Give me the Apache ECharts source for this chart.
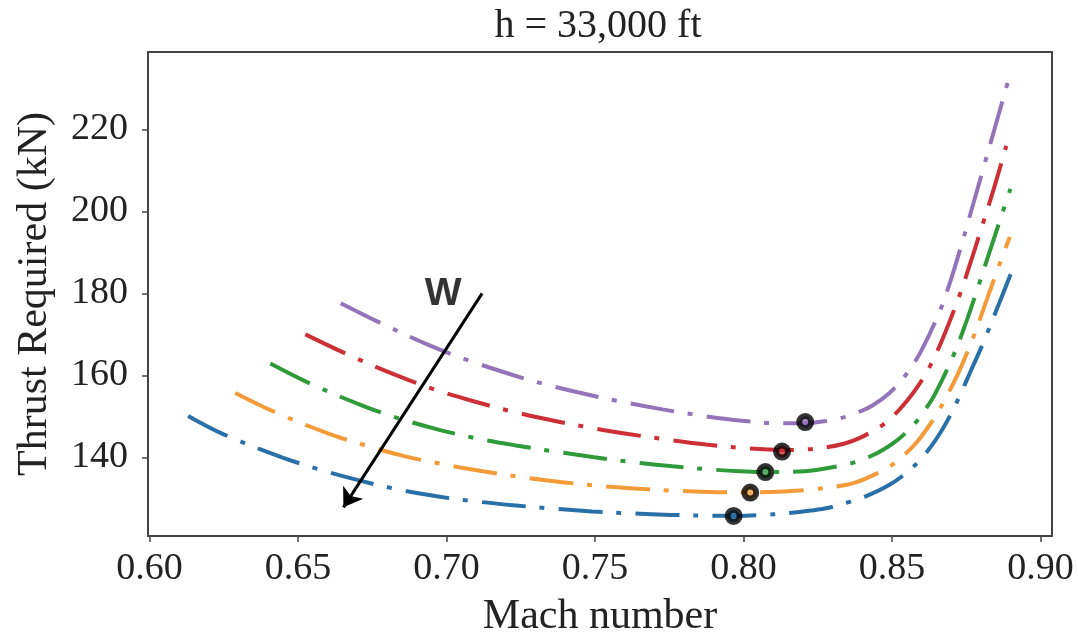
<!DOCTYPE html>
<html><head><meta charset="utf-8">
<script src="https://cdn.jsdelivr.net/npm/echarts@6/dist/echarts.min.js"></script>
<style>html,body{margin:0;padding:0;background:#fff}#c{width:1078px;height:643px}</style>
</head><body><div id="c"></div>
<script>
// ---- data ----
const xTicks = [0.60, 0.65, 0.70, 0.75, 0.80, 0.85, 0.90];
const yTicks = [140, 160, 180, 200, 220];

const blueM   = [0.613,0.625,0.6446,0.6569,0.6699,0.6828,0.6957,0.7091,0.7226,0.7355,0.749,0.7625,0.7756,0.7888,0.7967,0.8046,0.8156,0.8227,0.8287,0.836,0.8416,0.848,0.8531,0.859,0.8645,0.8691,0.8725,0.8765,0.8806,0.8855,0.8905];
const blueT   = [150.1,145.6,140.0,137.1,134.5,132.3,130.6,129.3,128.3,127.5,126.8,126.3,125.95,125.75,125.7,125.85,126.4,127.0,127.7,129.2,130.6,132.8,135.2,139.0,144.0,149.5,154.5,161.0,167.7,176.5,185.6];

const orangeM = [0.6289,0.6423,0.6603,0.6732,0.6858,0.699,0.7097,0.7251,0.7383,0.7516,0.765,0.7784,0.7916,0.8023,0.812,0.8222,0.8315,0.8371,0.843,0.8506,0.8545,0.8585,0.8625,0.8663,0.8725,0.8775,0.882,0.8865,0.8897];
const orangeT = [155.7,151.0,145.8,142.8,140.3,138.3,136.9,135.2,134.0,133.0,132.3,131.8,131.5,131.45,131.6,132.1,132.9,133.7,135.4,138.4,140.8,143.8,147.7,152.0,160.8,169.5,178.6,187.6,193.8];

const greenM  = [0.6407,0.6547,0.6721,0.6844,0.6976,0.7103,0.7234,0.7366,0.7498,0.763,0.7761,0.7896,0.7985,0.8074,0.8164,0.8245,0.8366,0.842,0.8472,0.8525,0.8579,0.8613,0.8645,0.8708,0.875,0.8792,0.8826,0.8876,0.8899];
const greenT  = [162.9,157.8,152.5,149.4,146.7,144.6,142.9,141.4,140.0,138.8,137.8,137.0,136.6,136.4,136.45,136.9,138.6,140.0,141.9,144.6,148.4,151.7,155.4,165.0,173.0,182.0,189.5,200.5,205.5];

const redM    = [0.6525,0.667,0.6839,0.6962,0.7085,0.722,0.735,0.7479,0.7612,0.7745,0.7874,0.8008,0.813,0.8205,0.8276,0.8338,0.8394,0.8467,0.8506,0.8551,0.859,0.863,0.8674,0.873,0.8765,0.8804,0.8843,0.8885];
const redT    = [170.0,165.0,159.8,156.5,153.8,151.2,149.1,147.3,145.7,144.3,143.1,142.2,141.8,141.9,142.4,143.3,144.8,147.8,150.2,153.8,157.6,162.5,169.5,180.0,187.6,196.5,205.5,216.0];

const purpleM = [0.6644,0.6783,0.6953,0.708,0.7249,0.7333,0.7464,0.7594,0.7727,0.7855,0.7986,0.8121,0.8208,0.8282,0.834,0.8383,0.8433,0.849,0.8539,0.8596,0.8663,0.8697,0.873,0.8758,0.8809,0.8845,0.889];
const purpleT = [177.6,172.6,167.0,163.5,159.5,157.8,155.5,153.5,151.7,150.2,149.0,148.3,148.3,148.9,149.8,150.9,152.6,155.6,159.4,165.6,176.0,183.0,190.8,197.8,210.8,220.0,231.5];

// optimum (circled) points, blue -> purple
const optM = [0.7967, 0.8023, 0.8074, 0.8130, 0.8208];
const optT = [125.7, 131.4, 136.4, 141.4, 148.6];

// "W" annotation: label position and arrow (start -> tip)
const wLabel = [0.6989, 179.8];
const arrowStart = [0.7120, 180.0];
const arrowEnd = [0.6653, 127.8];

// ---- chart ----
const colors = ['#2a70a8', '#f29b38', '#2f9a3a', '#cc2f36', '#9474b8'];
const serif = 'Liberation Serif';
const chart = echarts.init(document.getElementById('c'), null, {renderer: 'canvas'});

function dashSeries(name, M, T, color) {
  return {
    name, type: 'line', data: M.map((m, i) => [m, T[i]]),
    showSymbol: false, smooth: 0.35, silent: true, z: 2,
    lineStyle: {color, width: 4, type: [44, 14, 5, 14], cap: 'butt'}
  };
}

const option = {
  animation: false,
  backgroundColor: '#fff',
  title: {
    text: 'h = 33,000 ft', left: 598, top: 6, textAlign: 'center', padding: 0,
    textStyle: {fontFamily: serif, fontSize: 40, fontWeight: 'normal', color: '#222'}
  },
  grid: {left: 148, right: 26, top: 52, bottom: 97, show: true, borderColor: '#444', borderWidth: 2},
  xAxis: {
    type: 'value', min: 0.5995, max: 0.9039,
    name: 'Mach number', nameLocation: 'middle', nameGap: 60,
    nameTextStyle: {fontFamily: serif, fontSize: 42, color: '#222'},
    axisLine: {show: false}, splitLine: {show: false},
    axisTick: {show: true, length: 6, customValues: xTicks, lineStyle: {color: '#444', width: 1.5}},
    axisLabel: {customValues: xTicks, formatter: v => v.toFixed(2), margin: 14,
      fontFamily: serif, fontSize: 38, color: '#222'}
  },
  yAxis: {
    type: 'value', min: 120.8, max: 238.9,
    name: 'Thrust Required (kN)', nameLocation: 'middle', nameGap: 92, nameRotate: 90,
    nameTextStyle: {fontFamily: serif, fontSize: 42, color: '#222'},
    axisLine: {show: false}, splitLine: {show: false},
    axisTick: {show: true, length: 6, customValues: yTicks, lineStyle: {color: '#444', width: 1.5}},
    axisLabel: {customValues: yTicks, formatter: v => String(v), margin: 20,
      fontFamily: serif, fontSize: 38, color: '#222'}
  },
  series: [
    dashSeries('blue', blueM, blueT, colors[0]),
    dashSeries('orange', orangeM, orangeT, colors[1]),
    dashSeries('green', greenM, greenT, colors[2]),
    dashSeries('red', redM, redT, colors[3]),
    dashSeries('purple', purpleM, purpleT, colors[4]),
    {
      name: 'optimum', type: 'scatter', silent: true, z: 5,
      data: optM.map((m, i) => ({value: [m, optT[i]], itemStyle: {color: colors[i]}})),
      symbol: 'circle', symbolSize: 12,
      itemStyle: {borderColor: '#000', borderWidth: 6}
    },
    {
      name: 'W', type: 'scatter', silent: true, z: 6,
      data: [wLabel], symbolSize: 1, itemStyle: {color: 'rgba(0,0,0,0)'},
      label: {show: true, position: 'inside', formatter: 'W', fontFamily: 'Liberation Sans',
        fontWeight: 'bold', fontSize: 39, color: '#000'},
      markLine: {
        silent: true, symbol: ['none', 'arrow'], symbolSize: 18,
        lineStyle: {color: '#000', width: 3, type: 'solid'},
        label: {show: false},
        data: [[{coord: arrowStart}, {coord: arrowEnd}]]
      }
    }
  ]
};
chart.setOption(option);
</script>
</body></html>
